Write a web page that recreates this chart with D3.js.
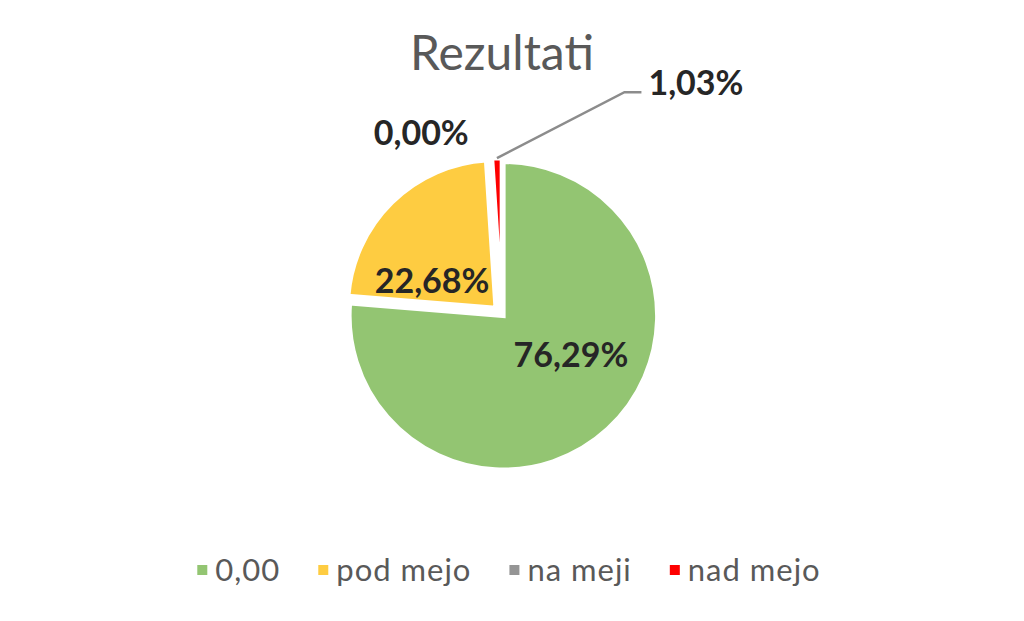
<!DOCTYPE html>
<html>
<head>
<meta charset="utf-8">
<script src="https://cdn.jsdelivr.net/npm/d3@7"></script>
<style>
  html, body { margin: 0; padding: 0; background: #ffffff; }
  svg { display: block; font-family: Lato, "Open Sans", sans-serif; }
</style>
</head>
<body>
<svg id="chart" width="1024" height="621"></svg>
<script>
// ---- data ----
const categories = ["0,00", "pod mejo", "na meji", "nad mejo"];
const values = [76.29, 22.68, 0.00, 1.03];
const title = "Rezultati";

// ---- style config ----
const colors = ["#93c572", "#fecc41", "#959595", "#fe0000"];
const explode = [2, 9, 0, 2.3];
const radii = [154, 148, 154, 154];
// label placement: angle in degrees (clockwise from 12 o'clock), distance from centre (px)
const labelPlace = [
  { a: 120.5, d: 80 },
  { a: 295.5, d: 77.5 },
  { a: 336, d: 198.6 },
  { a: 40, d: 301.7 }
];

const W = 1024, H = 621;
const cx = 502, cy = 314.3;
const svg = d3.select("#chart");

const fmt = v => d3.format(".2f")(v).replace(".", ",") + "%";

// title
svg.append("text")
  .attr("x", cx).attr("y", 70)
  .attr("text-anchor", "middle")
  .attr("font-size", 48)
  .attr("fill", "#595959")
  .text(title);

const pie = d3.pie().sort(null).value(d => d.v).startAngle(0).endAngle(2 * Math.PI);
const data = categories.map((c, i) => ({ c, v: values[i], i }));
const arcs = pie(data);

const g = svg.append("g").attr("transform", `translate(${cx},${cy})`);

function dir(angle) { return [Math.sin(angle), -Math.cos(angle)]; }

arcs.forEach(a => {
  const i = a.data.i;
  if (a.endAngle - a.startAngle <= 0) return;
  const mid = (a.startAngle + a.endAngle) / 2;
  const [ux, uy] = dir(mid);
  const arc = d3.arc().innerRadius(0).outerRadius(radii[i]);
  g.append("path")
    .attr("d", arc(a))
    .attr("transform", `translate(${ux * explode[i]},${uy * explode[i]})`)
    .attr("fill", colors[i])
    .attr("stroke", "#ffffff")
    .attr("stroke-width", 4.5)
    .attr("stroke-linejoin", "miter");
});

// labels
const fs = 34;
arcs.forEach(a => {
  const i = a.data.i;
  const p = labelPlace[i];
  const ang = p.a * Math.PI / 180;
  const [ux, uy] = dir(ang);
  const lx = ux * p.d, ly = uy * p.d;
  g.append("text")
    .attr("class", "lbl")
    .attr("x", lx)
    .attr("y", ly + fs * 0.717 / 2)
    .attr("text-anchor", "middle")
    .attr("font-size", fs)
    .attr("font-weight", "bold")
    .attr("fill", "#262626")
    .text(fmt(a.data.v));
});

// leader line for the small red slice
(function () {
  const i = 3;
  const a = arcs[i];
  const mid = (a.startAngle + a.endAngle) / 2;
  const [ux, uy] = dir(mid);
  const sx = ux * (explode[i] + radii[i]), sy = uy * (explode[i] + radii[i]);
  const p = labelPlace[i];
  const ang = p.a * Math.PI / 180;
  const [lx, ly] = dir(ang);
  const tx = lx * p.d, ty = ly * p.d;
  const t = g.selectAll("text.lbl").filter((d, k) => k === i).node();
  const tw = t.getComputedTextLength();
  const endX = tx - tw / 2 - 7;
  const elbowX = endX - 17;
  const lineY = ty + 9;
  g.append("polyline")
    .attr("points", `${sx},${sy} ${elbowX},${lineY} ${endX},${lineY}`)
    .attr("fill", "none")
    .attr("stroke", "#8c8c8c")
    .attr("stroke-width", 2.5);
})();

// legend
const legend = svg.append("g");
const sq = 10, gapText = 8, gapItem = 38, legY = 581;
let x = 0;
categories.forEach((c, i) => {
  const it = legend.append("g").attr("transform", `translate(${x},0)`);
  it.append("rect")
    .attr("x", 0).attr("y", legY - 16)
    .attr("width", sq).attr("height", sq)
    .attr("fill", colors[i]);
  const t = it.append("text")
    .attr("x", sq + gapText).attr("y", legY)
    .attr("font-size", 31)
    .attr("letter-spacing", 1)
    .attr("fill", "#595959")
    .text(c);
  x += sq + gapText + t.node().getComputedTextLength() + gapItem;
});
const total = x - gapItem;
legend.attr("transform", `translate(${509 - total / 2},0)`);
</script>
</body>
</html>
